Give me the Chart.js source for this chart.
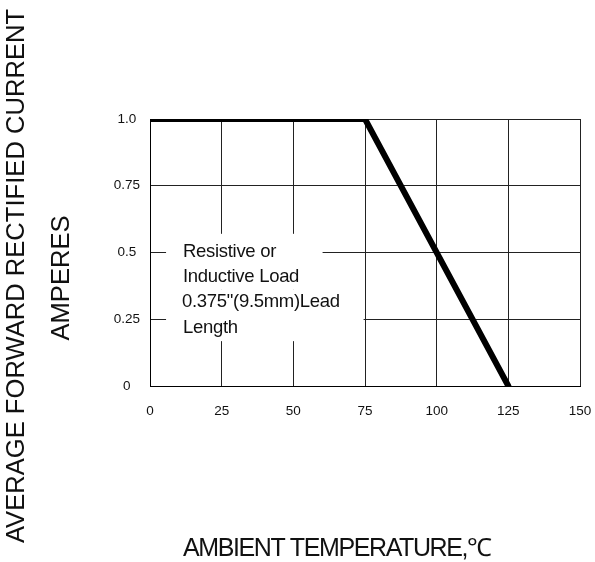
<!DOCTYPE html>
<html>
<head>
<meta charset="utf-8">
<script src="https://cdn.jsdelivr.net/npm/chart.js@4/dist/chart.umd.min.js"></script>
<style>
  html, body { margin: 0; padding: 0; background: #fff; }
  #wrap { width: 595px; height: 562px; }
</style>
</head>
<body>
<div id="wrap"><canvas id="derating-chart"></canvas></div>
<script>
// Data
const tempPoints = [0, 75, 125];
const currentPoints = [1.0, 1.0, 0];
const xTicks = [0, 25, 50, 75, 100, 125, 150];
const yTickLabels = ['0', '0.25', '0.5', '0.75', '1.0'];

const yTitleLines = ['AVERAGE FORWARD RECTIFIED CURRENT', 'AMPERES'];
const xTitle = 'AMBIENT TEMPERATURE,\u2103';
const noteLines = ['Resistive or', 'Inductive Load', '0.375"(9.5mm)Lead', 'Length'];

const canvas = document.querySelector('#derating-chart');
const fontFamily = '"Liberation Sans", Arial, sans-serif';

// white boxes behind the note + the note text, in data units
const notePlugin = {
    id: 'note',
    beforeDatasetsDraw(chart) {
        const ctx = chart.ctx;
        const x = chart.scales.x;
        const y = chart.scales.y;
        ctx.save();
        ctx.fillStyle = '#fff';
        // upper part and lower part (lower one reaches the 75 line)
        let l = x.getPixelForValue(5.6);
        let r1 = x.getPixelForValue(60.2);
        let r2 = x.getPixelForValue(74.5);
        let t = y.getPixelForValue(0.57);
        let m = y.getPixelForValue(0.36);
        let b = y.getPixelForValue(0.168);
        ctx.fillRect(l, t, r1 - l, m - t);
        ctx.fillRect(l, m, r2 - l, b - m);

        ctx.fillStyle = '#111';
        ctx.font = '18.5px ' + fontFamily;
        ctx.textBaseline = 'middle';
        ctx.textAlign = 'left';
        ctx.letterSpacing = '-0.3px';
        const tx = x.getPixelForValue(11.5);
        let ty = y.getPixelForValue(0.503);
        noteLines.forEach((line, i) => {
            ctx.fillText(line, tx + (i == 2 ? -1 : 0), ty + i * 25.3);
        });
        ctx.restore();
    },
    afterDraw(chart) {
        const ctx = chart.ctx;
        ctx.save();
        ctx.fillStyle = '#111';
        ctx.textAlign = 'center';
        ctx.textBaseline = 'middle';

        // y title, rotated
        ctx.font = '25.6px ' + fontFamily;
        ctx.translate(17, 276);
        ctx.rotate(-Math.PI / 2);
        ctx.fillText(yTitleLines[0], 0, 0);
        ctx.fillText(yTitleLines[1], -2, 45);
        ctx.restore();

        ctx.save();
        ctx.fillStyle = '#111';
        ctx.font = '25px ' + fontFamily;
        ctx.textAlign = 'left';
        ctx.textBaseline = 'middle';
        ctx.letterSpacing = '-1.4px';
        ctx.fillText(xTitle, 183, 549);
        ctx.restore();
    }
};

let deratingChart = new Chart(canvas, {
    type: 'line',
    data: {
        datasets: [{
            data: tempPoints.map((t, i) => ({ x: t, y: currentPoints[i] })),
            borderColor: '#000',
            borderWidth: 6,
            borderCapStyle: 'round',
            borderJoinStyle: 'miter',
            pointRadius: 0,
            fill: false,
            tension: 0
        }]
    },
    options: {
        responsive: true,
        maintainAspectRatio: false,
        animation: false,
        devicePixelRatio: 1,
        layout: {
            padding: { top: 119, right: 15, left: 0, bottom: 0 }
        },
        plugins: {
            legend: { display: false },
            tooltip: { enabled: false }
        },
        scales: {
            x: {
                type: 'linear',
                min: 0,
                max: 150,
                afterBuildTicks: scale => {
                    scale.ticks = xTicks.map(v => ({ value: v }));
                },
                afterFit: scale => {
                    scale.height = 176;
                    scale.paddingLeft = 0;
                    scale.paddingRight = 0;
                },
                grid: {
                    color: '#222',
                    lineWidth: 1,
                    drawTicks: false
                },
                border: { color: '#000', width: 1 },
                ticks: {
                    color: '#111',
                    padding: 17,
                    maxRotation: 0,
                    autoSkip: false,
                    font: { family: fontFamily, size: 13.5 }
                }
            },
            y: {
                type: 'linear',
                min: 0,
                max: 1,
                afterBuildTicks: scale => {
                    scale.ticks = yTickLabels.map((l, i) => ({ value: i * 0.25 }));
                },
                afterFit: scale => {
                    scale.width = 150;
                    scale.paddingTop = 0;
                    scale.paddingBottom = 0;
                },
                grid: {
                    color: '#222',
                    lineWidth: 1,
                    drawTicks: false
                },
                border: { color: '#000', width: 1 },
                ticks: {
                    color: '#111',
                    padding: 10,
                    crossAlign: 'center',
                    autoSkip: false,
                    font: { family: fontFamily, size: 13.5 },
                    callback: (value, index) => yTickLabels[index]
                }
            }
        }
    },
    plugins: [notePlugin]
});
</script>
</body>
</html>
